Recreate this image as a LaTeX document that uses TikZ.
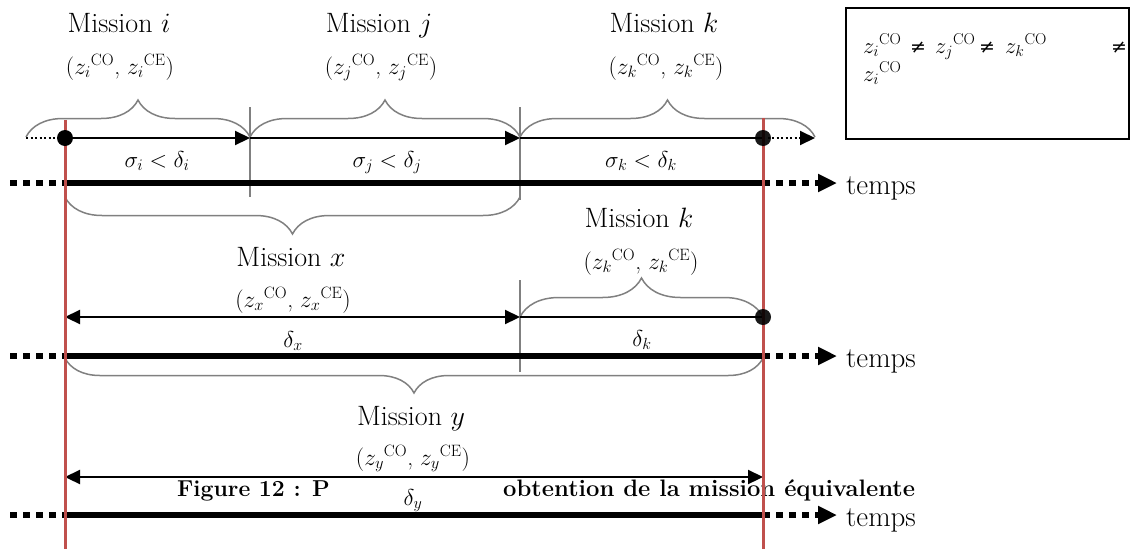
\RequirePackage{fix-cm}
\documentclass[tikz,border=0pt]{standalone}
\usepackage{fontspec}
\newfontfamily\symfnt{DejaVu Serif}
\usetikzlibrary{arrows.meta,decorations.pathreplacing}
\definecolor{redline}{RGB}{192,80,77}
\definecolor{bracegray}{RGB}{128,128,128}
\newcommand{\zz}[2]{z_{#1}{}^{\mathrm{#2}}}
\begin{document}
\begin{tikzpicture}[x=1pt,y=-1pt,
  mainlbl/.style={font=\fontsize{28}{32}\selectfont, inner sep=0pt, anchor=base},
  zlbl/.style={font=\fontsize{23.5}{27}\selectfont, inner sep=0pt, anchor=base},
  dlbl/.style={font=\fontsize{23}{27}\selectfont, inner sep=0pt, anchor=base},
  timelbl/.style={font=\fontsize{29}{33}\selectfont, inner sep=0pt, anchor=base west},
  caplbl/.style={font=\fontsize{23}{27}\selectfont\bfseries, inner sep=0pt, anchor=base west},
  boxlbl/.style={font=\fontsize{22.5}{26}\selectfont, inner sep=0pt, anchor=base west},
  neqlbl/.style={font=\fontsize{19}{22}\symfnt, inner sep=0pt, anchor=base},
  timeline/.style={line width=5.5pt},
  timedots/.style={line width=5.5pt, dash pattern=on 7pt off 6pt},
  flow/.style={line width=2.2pt},
  flowdots/.style={line width=2pt, dash pattern=on 2pt off 2.5pt},
  thintip/.style={-{Triangle[length=15pt,width=14pt]}},
  bothtips/.style={{Triangle[length=15pt,width=14pt]}-{Triangle[length=15pt,width=14pt]}},
  thicktip/.style={-{Triangle[length=19pt,width=17pt]}},
  tickline/.style={draw=bracegray, line width=1.5pt},
  gbrace/.style={draw=bracegray, line width=1.5pt, decorate, decoration={brace, amplitude=#1}},
  dotfill/.style={fill=black},
  redv/.style={draw=redline, line width=3pt},
  framebox/.style={draw, line width=1.5pt}
]
\useasboundingbox (0,0) rectangle (1131,549);

% ---------- coordinates ----------
% row 1
\coordinate (L1) at (26,138);
\coordinate (A1) at (65,138);
\coordinate (B1) at (250,138);
\coordinate (C1) at (520,138);
\coordinate (D1) at (763,138);
\coordinate (E1) at (815,138);
\coordinate (T1s) at (10,183);
\coordinate (T1a) at (65,183);
\coordinate (T1b) at (763,183);
\coordinate (T1e) at (837,183);
\coordinate (K1t) at (250,107);
\coordinate (K1b) at (250,197);
\coordinate (K2t) at (520,107);
\coordinate (K2b) at (520,200);
\coordinate (Bi1) at (26,137);
\coordinate (Bi2) at (250,137);
\coordinate (Bj2) at (520,137);
\coordinate (Bk2) at (815,137);
% row 2
\coordinate (A2) at (65,317);
\coordinate (C2) at (520,317);
\coordinate (D2) at (763,317);
\coordinate (T2s) at (10,356);
\coordinate (T2a) at (65,356);
\coordinate (T2b) at (763,356);
\coordinate (T2e) at (837,356);
\coordinate (K3t) at (520,280);
\coordinate (K3b) at (520,372);
\coordinate (Bx1) at (65,197);
\coordinate (Bx2) at (520,197);
% row 3
\coordinate (A3) at (65,477);
\coordinate (D3) at (763,477);
\coordinate (T3s) at (10,515);
\coordinate (T3a) at (65,515);
\coordinate (T3b) at (763,515);
\coordinate (T3e) at (837,515);
\coordinate (By1) at (65,358);
\coordinate (By2) at (763,358);
% red lines
\coordinate (R1t) at (65,120);
\coordinate (R1b) at (65,549);
\coordinate (R2t) at (763,118);
\coordinate (R2b) at (763,549);
% box corners
\coordinate (BoxNW) at (846,8);
\coordinate (BoxSE) at (1129,139);

% ---------- braces ----------
\draw[gbrace=37pt] (Bi1) -- (Bi2);
\draw[gbrace=37pt] (Bi2) -- (Bj2);
\draw[gbrace=37pt] (Bj2) -- (Bk2);
\draw[gbrace=37pt] (Bx2) -- (Bx1);
\draw[gbrace=39pt] (C2) -- (D2);
\draw[gbrace=35pt] (By2) -- (By1);

% ---------- ticks ----------
\draw[tickline] (K1t) -- (K1b);
\draw[tickline] (K2t) -- (K2b);
\draw[tickline] (K3t) -- (K3b);

% ---------- row 1 ----------
\draw[flowdots] (L1) -- (A1);
\draw[flow,thintip] (A1) -- (B1);
\draw[flow,thintip] (B1) -- (C1);
\draw[flow] (C1) -- (D1);
\draw[flowdots,thintip] (D1) -- (E1);
\draw[timedots] (T1s) -- (T1a);
\draw[timeline] (T1a) -- (T1b);
\draw[timedots,thicktip] (T1b) -- (T1e);

% ---------- row 2 ----------
\draw[flow,bothtips] (A2) -- (C2);
\draw[flow] (C2) -- (D2);
\draw[timedots] (T2s) -- (T2a);
\draw[timeline] (T2a) -- (T2b);
\draw[timedots,thicktip] (T2b) -- (T2e);

% ---------- row 3 ----------
\draw[flow,bothtips] (A3) -- (D3);
\draw[timedots] (T3s) -- (T3a);
\draw[timeline] (T3a) -- (T3b);
\draw[timedots,thicktip] (T3b) -- (T3e);

% ---------- labels row 1 ----------
\node[mainlbl] (mi) at (119,32) {Mission $i$};
\node[zlbl] (zi) at (120,74) {($\zz{i}{CO}$, $\zz{i}{CE}$)};
\node[mainlbl] (mj) at (379,32) {Mission $j$};
\node[zlbl] (zj) at (381,74) {($\zz{j}{CO}$, $\zz{j}{CE}$)};
\node[mainlbl] (mk) at (664,32) {Mission $k$};
\node[zlbl] (zk) at (666,74) {($\zz{k}{CO}$, $\zz{k}{CE}$)};
\node[dlbl] (si) at (157,167) {$\sigma_i < \delta_i$};
\node[dlbl] (sj) at (387,167) {$\sigma_j < \delta_j$};
\node[dlbl] (sk) at (641,167) {$\sigma_k < \delta_k$};
\node[timelbl] (tp1) at (846,194) {temps};

% ---------- labels row 2 ----------
\node[mainlbl] (mx) at (291,266) {Mission $x$};
\node[zlbl] (zx) at (293,307) {($\zz{x}{CO}$, $\zz{x}{CE}$)};
\node[dlbl] (dx) at (293,347) {$\delta_x$};
\node[mainlbl] (mk2) at (639,227) {Mission $k$};
\node[zlbl] (zk2) at (641,269) {($\zz{k}{CO}$, $\zz{k}{CE}$)};
\node[dlbl] (dk) at (642,346) {$\delta_k$};
\node[timelbl] (tp2) at (846,367) {temps};

% ---------- labels row 3 ----------
\node[mainlbl] (my) at (411,425) {Mission $y$};
\node[zlbl] (zy) at (413,465) {($\zz{y}{CO}$, $\zz{y}{CE}$)};
\node[dlbl] (dy) at (413,505) {$\delta_y$};
\node[timelbl] (tp3) at (846,526) {temps};
\node[caplbl] (cap1) at (177,496) {Figure 12 : P};
\node[caplbl, font=\fontsize{23.8}{27}\selectfont\bfseries] (cap2) at (503,496) {obtention de la mission équivalente};

% ---------- box ----------
\draw[framebox] (BoxNW) rectangle (BoxSE);
\node[boxlbl] (b1) at (863,53) {$\zz{i}{CO}$};
\node[neqlbl] (n1) at (918,53) {≠};
\node[boxlbl] (b2) at (935,53) {$\zz{j}{CO}$};
\node[neqlbl] (n2) at (987,53) {≠};
\node[boxlbl] (b3) at (1005,53) {$\zz{k}{CO}$};
\node[neqlbl] (n3) at (1119,53) {≠};
\node[boxlbl] (b4) at (863,81) {$\zz{i}{CO}$};

% ---------- red lines & dots ----------
\draw[redv] (R1t) -- (R1b);
\draw[redv] (R2t) -- (R2b);
\fill[dotfill] (A1) circle (8pt);
\fill[dotfill, opacity=0.9] (D1) circle (8pt);
\fill[dotfill, opacity=0.9] (D2) circle (8pt);
\end{tikzpicture}
\end{document}
